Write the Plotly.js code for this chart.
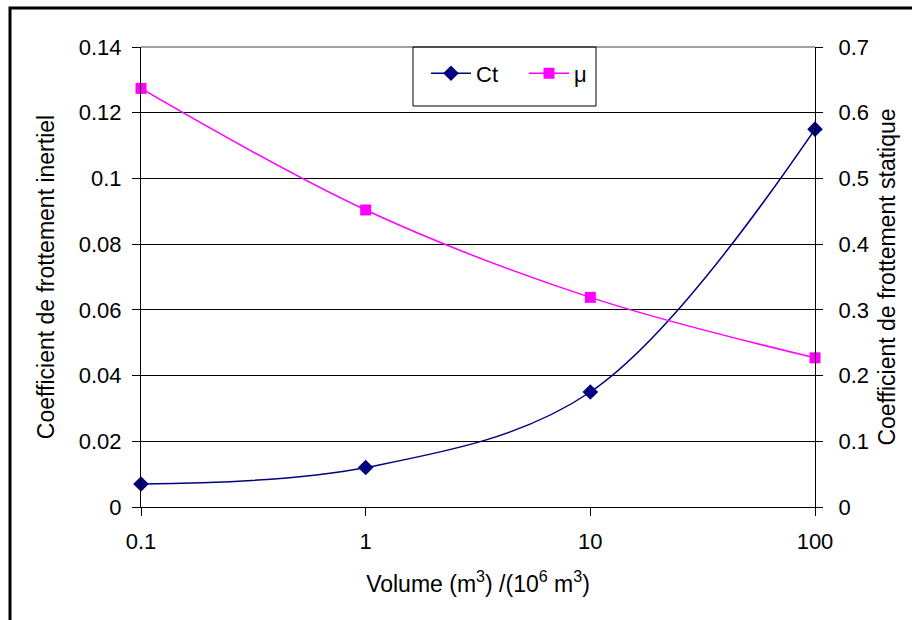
<!DOCTYPE html>
<html><head><meta charset="utf-8">
<script src="https://cdn.plot.ly/plotly-3.0.1.min.js"></script>
<style>html,body{margin:0;padding:0;background:#fff}#chart{width:912px;height:620px}</style>
</head><body><div id="chart"></div>
<script>
const volumes = [0.1, 1, 10, 100];
const ctValues = [0.007, 0.012, 0.035, 0.115];
const muValues = [0.637, 0.452, 0.319, 0.227];
const leftTicks = [0, 0.02, 0.04, 0.06, 0.08, 0.1, 0.12, 0.14];
const leftTickText = ['0', '0.02', '0.04', '0.06', '0.08', '0.1', '0.12', '0.14'];
const rightTicks = [0, 0.1, 0.2, 0.3, 0.4, 0.5, 0.6, 0.7];
const rightTickText = ['0', '0.1', '0.2', '0.3', '0.4', '0.5', '0.6', '0.7'];
const xTicks = [0.1, 1, 10, 100];
const xTickText = ['0.1', '1', '10', '100'];

const F = 'Liberation Sans, Arial, sans-serif';
const traces = [
  {x: volumes, y: ctValues, name: 'Ct', type: 'scatter', mode: 'lines+markers',
   line: {color: '#000080', width: 1.5, shape: 'spline', smoothing: 1},
   marker: {symbol: 'diamond', size: 12, color: '#000080'}, yaxis: 'y', cliponaxis: false},
  {x: volumes, y: muValues, name: 'μ', type: 'scatter', mode: 'lines+markers',
   line: {color: '#FF00FF', width: 1.5, shape: 'spline', smoothing: 1},
   marker: {symbol: 'square', size: 11, color: '#FF00FF'}, yaxis: 'y2', cliponaxis: false}
];
const layout = {
  width: 912, height: 620,
  margin: {l: 141, r: 97, t: 47, b: 113},
  paper_bgcolor: '#fff', plot_bgcolor: '#fff',
  font: {family: F, size: 22, color: '#000'},
  showlegend: true,
  legend: {orientation: 'h', x: (426-141)/674, y: 0.988, xanchor: 'left', yanchor: 'top',
           bgcolor: 'rgba(0,0,0,0)', borderwidth: 0, font: {family: F, size: 22},
           itemwidth: 40, entrywidth: 43, entrywidthmode: 'pixels'},
  xaxis: {type: 'log', range: [-1, 2], tickvals: xTicks, ticktext: xTickText,
          showline: true, linecolor: '#000', linewidth: 1, ticks: 'outside', ticklen: 8, tickcolor: '#000',
          ticklabelstandoff: 7, showgrid: false, zeroline: false,
          title: {text: 'Volume (m<sup>3</sup>) /(10<sup>6</sup> m<sup>3</sup>)', standoff: 22, font: {family: F, size: 23}}},
  yaxis: {range: [0, 0.14], tickvals: leftTicks, ticktext: leftTickText,
          showline: true, linecolor: '#000', linewidth: 1, ticks: 'outside', ticklen: 8, tickcolor: '#000',
          ticklabelstandoff: 6, showgrid: true, gridcolor: '#000', gridwidth: 1, zeroline: false,
          title: {text: 'Coefficient de frottement inertiel', standoff: 17, font: {family: F, size: 23}}},
  yaxis2: {range: [0, 0.7], tickvals: rightTicks, ticktext: rightTickText, overlaying: 'y', side: 'right',
          showline: true, linecolor: '#000', linewidth: 1, ticks: 'outside', ticklen: 7, tickcolor: '#000',
          ticklabelstandoff: 11, showgrid: false, zeroline: false,
          title: {text: 'Coefficient de frottement statique', standoff: 10, font: {family: F, size: 23}}},
  shapes: [
    {type: 'line', xref: 'paper', yref: 'paper', x0: 0, x1: 1, y0: 1, y1: 1, line: {color: '#808080', width: 1.5}},
    {type: 'rect', xref: 'paper', yref: 'paper', x0: (413-141)/674, x1: (596-141)/674, y0: (507-106)/460, y1: 1,
     line: {color: '#000', width: 1}, layer: 'above'},
    {type: 'rect', xref: 'paper', yref: 'paper', x0: (10-141)/674, x1: 2, y0: -1, y1: (507-8)/460,
     line: {color: '#000', width: 3}}
  ]
};
Plotly.newPlot('chart', traces, layout, {displayModeBar: false, staticPlot: true});
</script></body></html>
